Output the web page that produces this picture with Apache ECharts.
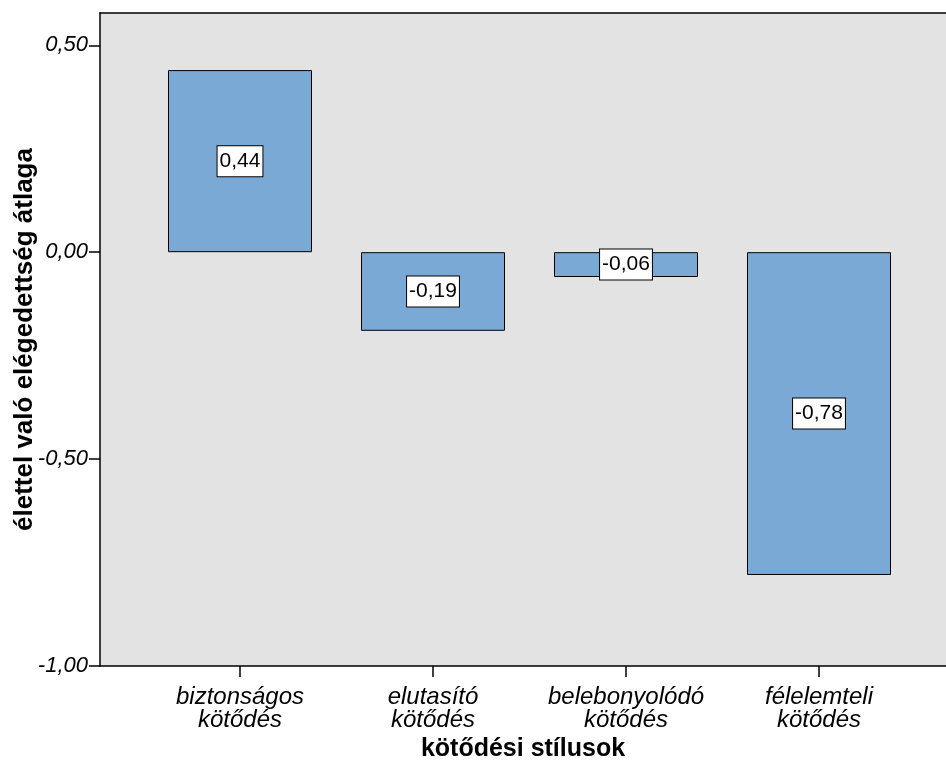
<!DOCTYPE html>
<html>
<head>
<meta charset="utf-8">
<script src="https://cdn.jsdelivr.net/npm/echarts@6/dist/echarts.min.js"></script>
<style>
html,body{margin:0;padding:0;background:#fff;}
#chart{width:946px;height:769px;}
</style>
</head>
<body>
<div id="chart"></div>
<script>
var categories = ['biztonságos\nkötődés', 'elutasító\nkötődés', 'belebonyolódó\nkötődés', 'félelemteli\nkötődés'];
var values = [0.44, -0.19, -0.06, -0.78];
var yTicks = [-1.0, -0.5, 0.0, 0.5];
var xTitle = 'kötődési stílusok';
var yTitle = 'élettel való elégedettség átlaga';

var FONT = '"Liberation Sans", Arial, sans-serif';
function fmt(v){ return v.toFixed(2).replace('.', ','); }

var chart = echarts.init(document.getElementById('chart'), null, {renderer:'canvas'});
var YMIN = -1.0, YMAX = 0.578;
chart.setOption({
  animation: false,
  grid: [
    {left: 100, right: 0, top: 13, bottom: 103, show: true, backgroundColor: '#e3e3e3', borderWidth: 0,
     containLabel: false, outerBoundsMode: 'none'},
    {left: 143.5, width: 772, top: 13, bottom: 103, containLabel: false, outerBoundsMode: 'none'}
  ],
  xAxis: [
    {gridIndex: 0, type: 'value', min: 0, max: 1, position: 'bottom',
     axisLine: {show: true, onZero: false, lineStyle: {color: '#000', width: 1.5}},
     axisTick: {show: false}, axisLabel: {show: false}, splitLine: {show: false},
     name: xTitle, nameLocation: 'middle', nameGap: 71, nameMoveOverlap: false,
     nameTextStyle: {fontFamily: FONT, fontSize: 25, fontWeight: 'bold', color: '#000'}},
    {gridIndex: 0, type: 'value', min: 0, max: 1, position: 'top',
     axisLine: {show: true, onZero: false, lineStyle: {color: '#000', width: 1.5}},
     axisTick: {show: false}, axisLabel: {show: false}, splitLine: {show: false}},
    {gridIndex: 1, type: 'category', data: categories, position: 'bottom',
     axisLine: {show: false, onZero: false},
     axisTick: {show: true, alignWithLabel: true, length: 11, lineStyle: {color: '#000', width: 1.5}},
     axisLabel: {fontFamily: FONT, fontSize: 24, fontStyle: 'italic', color: '#000', margin: 20, lineHeight: 23, interval: 0},
     splitLine: {show: false}}
  ],
  yAxis: [
    {gridIndex: 0, type: 'value', min: YMIN, max: YMAX,
     axisLine: {show: true, onZero: false, lineStyle: {color: '#000', width: 1.5}},
     axisTick: {show: true, length: 11, customValues: yTicks, lineStyle: {color: '#000', width: 1.5}},
     axisLabel: {fontFamily: FONT, fontSize: 22, fontStyle: 'italic', color: '#000', margin: 12,
       customValues: yTicks, formatter: function(v){ return fmt(v); }},
     splitLine: {show: false},
     name: yTitle, nameLocation: 'middle', nameGap: 62, nameRotate: 90, nameMoveOverlap: false,
     nameTextStyle: {fontFamily: FONT, fontSize: 26, fontWeight: 'bold', color: '#000'}},
    {gridIndex: 1, type: 'value', min: YMIN, max: YMAX, show: false}
  ],
  series: [{
    type: 'bar', xAxisIndex: 2, yAxisIndex: 1,
    data: values, barWidth: 144,
    itemStyle: {color: '#7ba9d6', borderColor: '#000', borderWidth: 1},
    label: {show: true, position: 'inside', formatter: function(p){ return fmt(p.value); },
      fontFamily: FONT, fontSize: 21, color: '#000', backgroundColor: '#fff',
      borderColor: '#000', borderWidth: 1, padding: [5, 2, 4, 2]}
  }]
});
</script>
</body>
</html>
